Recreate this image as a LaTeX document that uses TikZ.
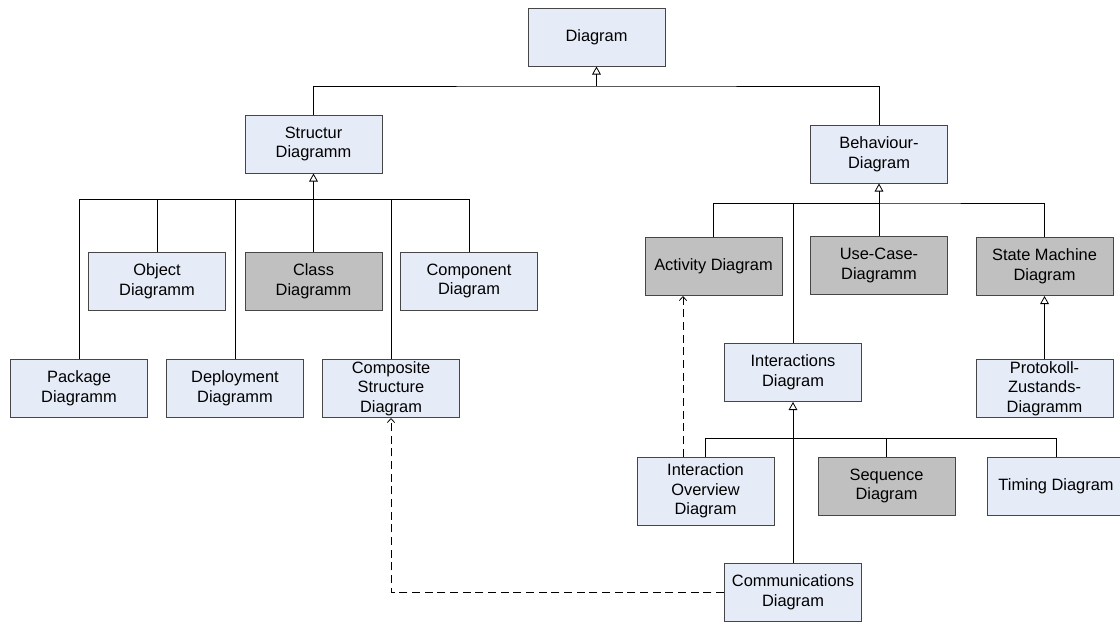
\documentclass[tikz,border=0pt]{standalone}
\usepackage{fontspec}
\setmainfont{Liberation Sans}
\usetikzlibrary{arrows.meta}
\definecolor{boxblue}{RGB}{230,236,247}
\definecolor{boxgray}{RGB}{192,192,192}
\definecolor{boxline}{RGB}{70,70,70}

\begin{document}
\begin{tikzpicture}[x=0.75pt, y=-0.75pt,
  diagbox/.style={draw=boxline, line width=0.75pt, fill=boxblue, minimum width=102.75pt, minimum height=43.5pt,
    inner sep=0pt, align=center, font=\fontsize{12.3}{14.7}\selectfont},
  greybox/.style={diagbox, fill=boxgray},
  link/.style={line width=0.6pt},
  gen/.style={link, -{Triangle[open, length=6pt, width=6.5pt]}},
  dep/.style={link, dash pattern=on 6pt off 3.5pt, -{Straight Barb[length=3pt, width=5.5pt]}}]
   \useasboundingbox (0,0) rectangle (1120,622);

   \node[diagbox] (diagram) at (596.5,37) {Diagram};
   \node[diagbox] (struct) at (313.5,144) {Structur\\Diagramm};
   \node[diagbox] (behav) at (879,154) {Behaviour-\\Diagram};

   \node[diagbox] (object) at (157,281) {Object\\Diagramm};
   \node[greybox] (class) at (313.5,281) {Class\\Diagramm};
   \node[diagbox] (comp) at (469,281) {Component\\Diagram};
   \node[diagbox] (package) at (79,388.5) {Package\\Diagramm};
   \node[diagbox] (deploy) at (235,388.5) {Deployment\\Diagramm};
   \node[diagbox] (compos) at (391,388.5) {Composite\\Structure\\Diagram};

   \node[greybox] (activity) at (713.5,266.5) {Activity Diagram};
   \node[greybox] (usecase) at (879,265.5) {Use-Case-\\Diagramm};
   \node[greybox] (state) at (1044.5,266.5) {State Machine\\Diagram};
   \node[diagbox] (inter) at (793,372.5) {Interactions\\Diagram};
   \node[diagbox] (proto) at (1044.5,388.5) {Protokoll-\\Zustands-\\Diagramm};

   \node[diagbox, minimum height=51pt] (overview) at (705.5,491) {Interaction\\Overview\\Diagram};
   \node[greybox] (sequence) at (886.5,486) {Sequence\\Diagram};
   \node[diagbox] (timing) at (1056,486) {Timing Diagram};
   \node[diagbox] (commun) at (793,592) {Communications\\Diagram};

   \coordinate (topbus) at (596.5,86);
   \coordinate (sbus) at (313.5,199);
   \coordinate (bbus) at (879,203);
   \coordinate (ibus) at (793,438);
   \coordinate (ovtop) at ([xshift=-16.9pt]overview.north);

   \draw[link] (struct.north) |- (topbus) -| (behav.north);
   \draw[gen] (topbus) -- (diagram.south);

   \draw[link] (package.north) |- (sbus) -| (comp.north);
   \draw[link] (object.north) |- (sbus);
   \draw[link] (deploy.north) |- (sbus);
   \draw[link] (compos.north) |- (sbus);
   \draw[gen] (class.north) -- (struct.south);

   \draw[link] (activity.north) |- (bbus) -| (state.north);
   \draw[link] (inter.north) |- (bbus);
   \draw[gen] (usecase.north) -- (behav.south);
   \draw[gen] (proto.north) -- (state.south);

   \draw[link] (overview.north) |- (ibus) -| (timing.north);
   \draw[link] (sequence.north) |- (ibus);
   \draw[gen] (commun.north) -- (inter.south);

   \draw[dep] (ovtop) -- (ovtop |- activity.south);
   \draw[dep] (commun.west) -| (compos.south);
  \end{tikzpicture}
\end{document}
